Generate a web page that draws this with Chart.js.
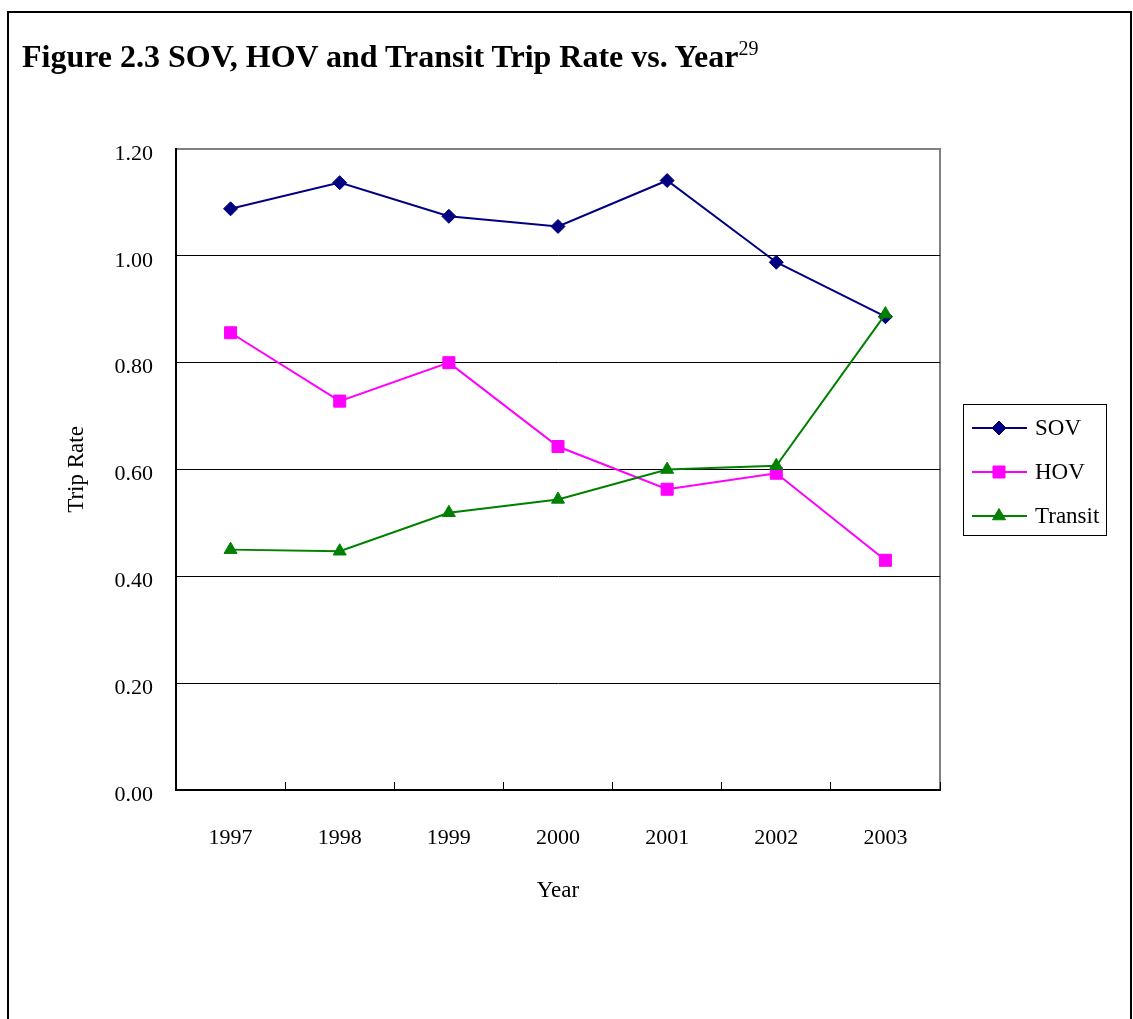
<!DOCTYPE html>
<html>
<head>
<meta charset="utf-8">
<script src="https://cdn.jsdelivr.net/npm/chart.js@4"></script>
<style>
  html, body { margin: 0; padding: 0; background: #fff; }
  #page { position: relative; width: 1133px; height: 1019px; overflow: hidden; }
  #frame { position: absolute; left: 7px; top: 11px; width: 1121px; height: 1100px; border: 2px solid #000; }
  #myChart { position: absolute; left: 0; top: 0; }
  #title { position: absolute; left: 22px; top: 40px; font: bold 32px "Liberation Serif", "Times New Roman", serif; line-height: 32px; white-space: nowrap; color: #000; }
  #title sup { font-weight: normal; font-size: 20px; line-height: 0; vertical-align: 12px; }
</style>
</head>
<body>
<div id="page">
  <div id="frame"></div>
  <canvas id="myChart" width="1133" height="1019"></canvas>
  <div id="title">Figure 2.3 SOV, HOV and Transit Trip Rate vs. Year<sup>29</sup></div>
</div>
<script>
// datos
const years = ['1997', '1998', '1999', '2000', '2001', '2002', '2003'];
const sovRate = [1.088, 1.137, 1.074, 1.055, 1.141, 0.988, 0.886];
const hovRate = [0.856, 0.728, 0.800, 0.643, 0.563, 0.593, 0.430];
const transitRate = [0.450, 0.447, 0.519, 0.544, 0.600, 0.607, 0.891];
const yTicks = [0, 0.2, 0.4, 0.6, 0.8, 1.0, 1.2];

Chart.defaults.font.family = '"Liberation Serif", "Times New Roman", serif';
Chart.defaults.color = '#000';

// marco gris arriba y a la derecha del área de trazado
const plotFrame = {
    id: 'plotFrame',
    beforeDraw(chart) {
        const { ctx, chartArea: a } = chart;
        ctx.save();
        ctx.strokeStyle = '#808080';
        ctx.lineWidth = 2;
        ctx.strokeRect(a.left, a.top, a.right - a.left, a.bottom - a.top);
        ctx.restore();
    }
};

// leyenda con caja, línea y marcador
const boxLegend = {
    id: 'boxLegend',
    afterDraw(chart) {
        const ctx = chart.ctx;
        const rows = [428, 472, 516];
        ctx.save();
        ctx.strokeStyle = '#000';
        ctx.lineWidth = 1;
        ctx.strokeRect(963.5, 404.5, 143, 131);
        ctx.font = '23px "Liberation Serif", "Times New Roman", serif';
        ctx.textBaseline = 'middle';
        chart.data.datasets.forEach((ds, i) => {
            const y = rows[i];
            ctx.strokeStyle = ds.borderColor;
            ctx.lineWidth = 2;
            ctx.beginPath();
            ctx.moveTo(972, y);
            ctx.lineTo(1027, y);
            ctx.stroke();
            ctx.fillStyle = ds.backgroundColor;
            ctx.strokeStyle = ds.borderColor;
            ctx.lineWidth = 1;
            Chart.helpers.drawPoint(ctx, { pointStyle: ds.pointStyle, radius: ds.pointRadius, rotation: 0, borderWidth: 1 }, 999, y);
            ctx.fillStyle = '#000';
            ctx.fillText(ds.label, 1035, y + 1);
        });
        ctx.restore();
    }
};

const ctx = document.getElementById('myChart').getContext('2d');
new Chart(ctx, {
    type: 'line',
    data: {
        labels: years,
        datasets: [{
                label: 'SOV',
                data: sovRate,
                borderColor: '#000080',
                backgroundColor: '#000080',
                pointStyle: 'rectRot',
                pointRadius: 7,
                order: 3
            },
            {
                label: 'HOV',
                data: hovRate,
                borderColor: '#FF00FF',
                backgroundColor: '#FF00FF',
                pointStyle: 'rect',
                pointRadius: 8.5,
                order: 2
            },
            {
                label: 'Transit',
                data: transitRate,
                borderColor: '#008000',
                backgroundColor: '#008000',
                pointStyle: 'triangle',
                pointRadius: 7.5,
                order: 1
            },
        ],
    },
    options: {
        responsive: false,
        animation: false,
        devicePixelRatio: 1,
        layout: {
            padding: { top: 149, right: 193, bottom: 0, left: 0 }
        },
        elements: {
            line: { borderWidth: 2, tension: 0 },
            point: { borderWidth: 1, hoverRadius: 7 }
        },
        scales: {
            x: {
                offset: true,
                grid: {
                    offset: true,
                    drawOnChartArea: false,
                    drawTicks: true,
                    tickLength: -8,
                    color: '#000',
                    lineWidth: 1
                },
                border: { color: '#000', width: 2 },
                ticks: { padding: 43, font: { size: 22 }, color: '#000', maxRotation: 0 },
                title: {
                    display: true,
                    text: 'Year',
                    font: { size: 23 },
                    color: '#000',
                    padding: { top: 0, bottom: 114 }
                },
                afterFit: s => { s.height = 229; }
            },
            y: {
                min: 0,
                max: 1.2,
                afterBuildTicks: s => { s.ticks = yTicks.map(v => ({ value: v })); },
                grid: {
                    color: c => (c.tick && c.tick.value === 1.2) ? '#808080' : '#000',
                    lineWidth: 1,
                    drawTicks: false
                },
                border: { color: '#000', width: 2 },
                ticks: {
                    padding: 23,
                    labelOffset: 5,
                    font: { size: 22 },
                    color: '#000',
                    callback: v => Number(v).toFixed(2)
                },
                title: {
                    display: true,
                    text: 'Trip Rate',
                    font: { size: 23 },
                    color: '#000',
                    padding: { top: 63, bottom: 0 }
                },
                afterFit: s => { s.width = 176; }
            }
        },
        plugins: {
            legend: { display: false },
            tooltip: { enabled: false },
            title: { display: false }
        }
    },
    plugins: [plotFrame, boxLegend]
});
</script>
</body>
</html>
